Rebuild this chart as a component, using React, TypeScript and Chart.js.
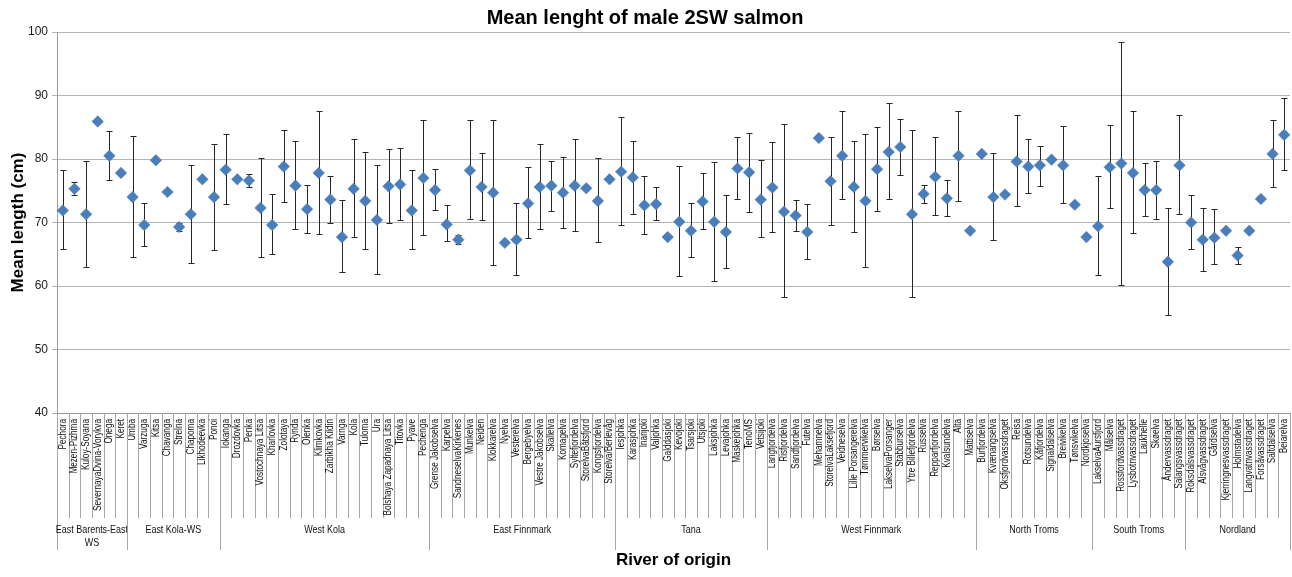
import React, { useEffect, useRef } from 'react';
import { Chart, registerables } from 'chart.js';

Chart.register(...registerables);

const categories: string[] = [
  'Pechora', 'Mezen-Pizhma', 'Kuloy-Soyana', 'SevernayaDvina-Vorykva', 'Onega', 'Keret',
  'Umba', 'Varzuga', 'Kitsa', 'Chavanga', 'Strelna', 'Chapoma', 'Likhodeevka', 'Ponoi',
  'Iokanga', 'Drozdovka', 'Penka', 'Vostochnaya Litsa', 'Kharlovka', 'Zolotaya', 'Rynda', 'Olenka', 'Klimkovka', 'Zarbikha Kildin', 'Varnga', 'Kola', 'Tuloma', 'Ura', 'Bolshaya Zapadnaya Litsa', 'Titovka', 'Pyave', 'Pechenga',
  'Grense Jakobselva', 'Karpelva', 'SandneselvaKirkenes', 'Munkelva', 'Neiden', 'Klokkarelva', 'Nyelva', 'Vesterelva', 'Bergebyelva', 'Vestre Jakobselva', 'Skallelva', 'Komagelva', 'Syltefjordelva', 'StorelvaBåtsfjord', 'Kongsfjordelva', 'Storelva/Berlevåg',
  'Iesjohka', 'Karasjohka', 'Inarijoki', 'Valjohka', 'Galddasjoki', 'Kevojoki', 'Tsarsjoki', 'Utsjoki', 'Laksjohka', 'Levajohka', 'Maskejohka', 'TenoMS', 'Vetsijoki',
  'Langfjordelva', 'Risfjordelva', 'Sandfjordelva', 'Futelva', 'Mehamnelva', 'StorelvaLaksefjord', 'Veidneselva', 'Lille Porsangerelva', 'Tømmervikelva', 'Børselva', 'LakselvaPorsanger', 'Stabburselva', 'Ytre Billefjordelva', 'Russelva', 'Repparfjordelva', 'Kvalsundelva', 'Alta', 'Mattiselva',
  'Burfjordelva', 'Kvænangselva', 'Oksfjordvassdraget', 'Reisa', 'Rotsundelva', 'Kåfjordelva', 'Signaldalselva', 'Breivikelva', 'Tønsvikelva', 'Nordkjoselva',
  'LakselvaAursfjord', 'Målselva', 'Rossfordvassdraget', 'Lysbotnvassdraget', 'Laukhelle', 'Skøelva', 'Åndervassdraget', 'Salangsvassdraget',
  'Roksdalsvassdraget', 'Alsvågvassdraget', 'Gårdselva', 'Kjerringnesvassdraget', 'Holmstadelva', 'Langvatnvassdraget', 'Forsåvassdraget', 'Saltdalselva', 'Beiarelva',
];

const groupNames: string[][] = [
  ['East Barents-East', 'WS'], ['East Kola-WS'], ['West Kola'], ['East Finnmark'], ['Tana'],
  ['West Finnmark'], ['North Troms'], ['South Troms'], ['Nordland'],
];
const groupSizes: number[] = [6, 8, 18, 16, 13, 18, 10, 8, 9];

const meanLength: number[] = [
  71.9, 75.3, 71.3, 85.9, 80.5, 77.8,
  74.0, 69.6, 79.8, 74.8, 69.3, 71.3, 76.8, 74.0,
  78.3, 76.8, 76.6, 72.3, 69.6, 78.8, 75.8, 72.1, 77.8, 73.6, 67.7, 75.3, 73.4, 70.4, 75.7, 76.0, 71.9, 77.0,
  75.1, 69.7, 67.3, 78.2, 75.6, 74.7, 66.8, 67.3, 73.0, 75.6, 75.8, 74.7, 75.8, 75.4, 73.4, 76.8,
  78.0, 77.1, 72.7, 72.9, 67.7, 70.1, 68.7, 73.3, 70.1, 68.5, 78.5, 77.9, 73.6,
  75.5, 71.7, 71.1, 68.5, 83.3, 76.5, 80.5, 75.6, 73.4, 78.4, 81.1, 81.9, 71.3, 74.5, 77.2, 73.8, 80.5, 68.7,
  80.8, 74.0, 74.4, 79.6, 78.8, 79.0, 79.9, 79.0, 72.8, 67.7,
  69.4, 78.7, 79.3, 77.8, 75.1, 75.1, 63.8, 79.0,
  70.0, 67.3, 67.6, 68.7, 64.8, 68.7, 73.7, 80.8, 83.8,
];

const upperLimit: (number | null)[] = [
  78.2, 76.3, 79.7, null, 84.4, null,
  83.7, 73.0, null, null, 70.0, 79.1, null, 82.4,
  83.9, null, 77.7, 80.2, 74.5, 84.5, 82.8, 75.9, 87.5, 77.4, 73.5, 83.2, 81.1, 79.1, 81.5, 81.7, 78.2, 86.2,
  78.5, 72.7, 68.0, 86.2, 80.9, 86.1, null, 73.0, 78.7, 82.4, 79.7, 80.3, 83.1, null, 80.2, null,
  86.6, 82.8, 77.3, 75.6, null, 78.9, 73.1, 77.8, 79.6, 74.3, 83.5, 84.1, 79.9,
  82.6, 85.5, 73.6, 72.9, null, 83.5, 87.5, 82.8, 84.0, 85.1, 88.8, 86.3, 84.6, 75.9, 83.5, 76.7, 87.6, null,
  null, 81.0, null, 87.0, 83.2, 82.1, null, 85.2, null, null,
  77.4, 85.3, 98.5, 87.5, 79.4, 79.7, 72.3, 86.9,
  74.3, 72.3, 72.1, null, 66.2, null, null, 86.2, 89.6,
];

const lowerLimit: (number | null)[] = [
  65.9, 74.4, 63.0, null, 76.7, null,
  64.6, 66.3, null, null, 68.6, 63.6, null, 65.7,
  72.9, null, 75.6, 64.6, 65.0, 73.2, 68.9, 68.4, 68.2, 70.0, 62.2, 67.7, 65.9, 61.9, 70.0, 70.4, 65.8, 68.1,
  71.9, 67.1, 66.6, 70.6, 70.4, 63.3, null, 61.8, 67.5, 68.9, 71.8, 69.2, 68.6, null, 67.0, null,
  69.6, 71.4, 68.2, 70.4, null, 61.5, 64.6, 68.9, 60.8, 62.8, 73.7, 71.7, 67.7,
  68.5, 58.3, 68.6, 64.2, null, 69.6, 73.7, 68.5, 63.0, 71.8, 73.7, 77.5, 58.2, 73.0, 71.2, 71.1, 73.4, null,
  null, 67.2, null, 72.6, 74.7, 75.8, null, 73.1, null, null,
  61.8, 72.3, 60.2, 68.4, 71.0, 70.6, 55.5, 71.3,
  65.8, 62.4, 63.5, null, 63.5, null, null, 75.6, 78.3,
];

const SANS = '"Liberation Sans", Arial, sans-serif';

const decorPlugin = {
  id: 'decor',
  beforeDatasetsDraw(chart: any) {
    const { ctx, scales } = chart;
    const xs = scales.x;
    const ys = scales.y;
    ctx.save();
    ctx.strokeStyle = '#262626';
    ctx.lineWidth = 1;
    for (let i = 0; i < meanLength.length; i++) {
      const hi = upperLimit[i];
      const lo = lowerLimit[i];
      if (hi == null || lo == null) continue;
      const px = Math.round(xs.getPixelForValue(i)) + 0.5;
      const pt = Math.round(ys.getPixelForValue(hi)) + 0.5;
      const pb = Math.round(ys.getPixelForValue(lo)) + 0.5;
      ctx.beginPath();
      ctx.moveTo(px, pt);
      ctx.lineTo(px, pb);
      ctx.moveTo(px - 3, pt);
      ctx.lineTo(px + 3, pt);
      ctx.moveTo(px - 3, pb);
      ctx.lineTo(px + 3, pb);
      ctx.stroke();
    }
    ctx.restore();
  },
  afterDraw(chart: any) {
    const { ctx, scales, chartArea } = chart;
    const xs = scales.x;
    const y0 = chartArea.bottom;
    ctx.save();
    ctx.strokeStyle = '#a6a6a6';
    ctx.lineWidth = 1;
    // category separators
    for (let i = 0; i <= categories.length; i++) {
      const px = Math.round(xs.getPixelForValue(i - 0.5)) + 0.5;
      ctx.beginPath();
      ctx.moveTo(px, y0);
      ctx.lineTo(px, y0 + 105);
      ctx.stroke();
    }
    // category labels (rotated, condensed)
    ctx.fillStyle = '#111';
    ctx.font = '10.5px ' + SANS;
    ctx.textAlign = 'right';
    ctx.textBaseline = 'middle';
    for (let i = 0; i < categories.length; i++) {
      const px = xs.getPixelForValue(i);
      ctx.save();
      ctx.translate(px, y0 + 6);
      ctx.rotate(-Math.PI / 2);
      ctx.scale(0.78, 1);
      ctx.fillText(categories[i], 0, 0);
      ctx.restore();
    }
    // group separators and labels
    let start = 0;
    ctx.font = '11.5px ' + SANS;
    ctx.textAlign = 'center';
    ctx.textBaseline = 'middle';
    for (let g = 0; g <= groupSizes.length; g++) {
      const px = Math.round(xs.getPixelForValue(start - 0.5)) + 0.5;
      ctx.beginPath();
      ctx.moveTo(px, y0);
      ctx.lineTo(px, y0 + 137);
      ctx.stroke();
      if (g < groupSizes.length) {
        const end = start + groupSizes[g];
        const cx = (xs.getPixelForValue(start - 0.5) + xs.getPixelForValue(end - 0.5)) / 2;
        const lines = groupNames[g];
        lines.forEach((ln, k) => {
          ctx.save();
          ctx.translate(cx, y0 + 117 + k * 13);
          ctx.scale(0.78, 1);
          ctx.fillText(ln, 0, 0);
          ctx.restore();
        });
        start = end;
      }
    }
    ctx.restore();
  },
};

export default function App() {
  const ref = useRef<HTMLCanvasElement | null>(null);
  useEffect(() => {
    if (!ref.current) return;
    const chart = new Chart(ref.current, {
      type: 'line',
      data: {
        labels: categories,
        datasets: [
          {
            data: meanLength,
            showLine: false,
            pointStyle: 'rectRot',
            pointRadius: 5.8,
            pointHoverRadius: 5.8,
            backgroundColor: '#4A7EBB',
            borderColor: '#4A7EBB',
            pointBorderWidth: 0.5,
          },
        ],
      },
      options: {
        responsive: false,
        animation: false,
        layout: { autoPadding: false, padding: { left: 0, right: 2, top: 0, bottom: 0 } },
        plugins: {
          legend: { display: false },
          tooltip: { enabled: false },
          title: {
            display: true,
            text: 'Mean lenght of male 2SW salmon',
            color: '#000',
            font: { family: SANS, size: 20, weight: 'bold' },
            padding: { top: 6, bottom: 2 },
          },
        },
        scales: {
          x: {
            type: 'category',
            offset: true,
            grid: { display: false, drawTicks: false },
            border: { display: true, color: '#9a9a9a' },
            ticks: { display: false, autoSkip: false },
            title: {
              display: true,
              text: 'River of origin',
              color: '#000',
              font: { family: SANS, size: 17, weight: 'bold' },
              padding: { top: 0, bottom: 6 },
            },
            afterFit(scale: any) {
              scale.height = 164;
              scale.paddingLeft = 0;
              scale.paddingRight = 0;
            },
          },
          y: {
            min: 40,
            max: 100,
            ticks: {
              stepSize: 10,
              padding: 4,
              color: '#1a1a1a',
              font: { family: SANS, size: 12 },
            },
            grid: { color: '#b4b4b4', tickLength: 5, drawTicks: true },
            border: { color: '#9a9a9a' },
            title: {
              display: true,
              text: 'Mean length (cm)',
              color: '#000',
              font: { family: SANS, size: 17, weight: 'bold' },
              padding: { top: 8, bottom: 0 },
            },
            afterFit(scale: any) {
              scale.width = 57;
            },
          },
        },
      },
      plugins: [decorPlugin],
    });
    return () => chart.destroy();
  }, []);
  return (
    <div style={{ position: 'fixed', left: 0, top: 0, width: 1292, height: 577, background: '#fff' }}>
      <canvas ref={ref} width={1292} height={577} style={{ display: 'block' }} />
    </div>
  );
}
